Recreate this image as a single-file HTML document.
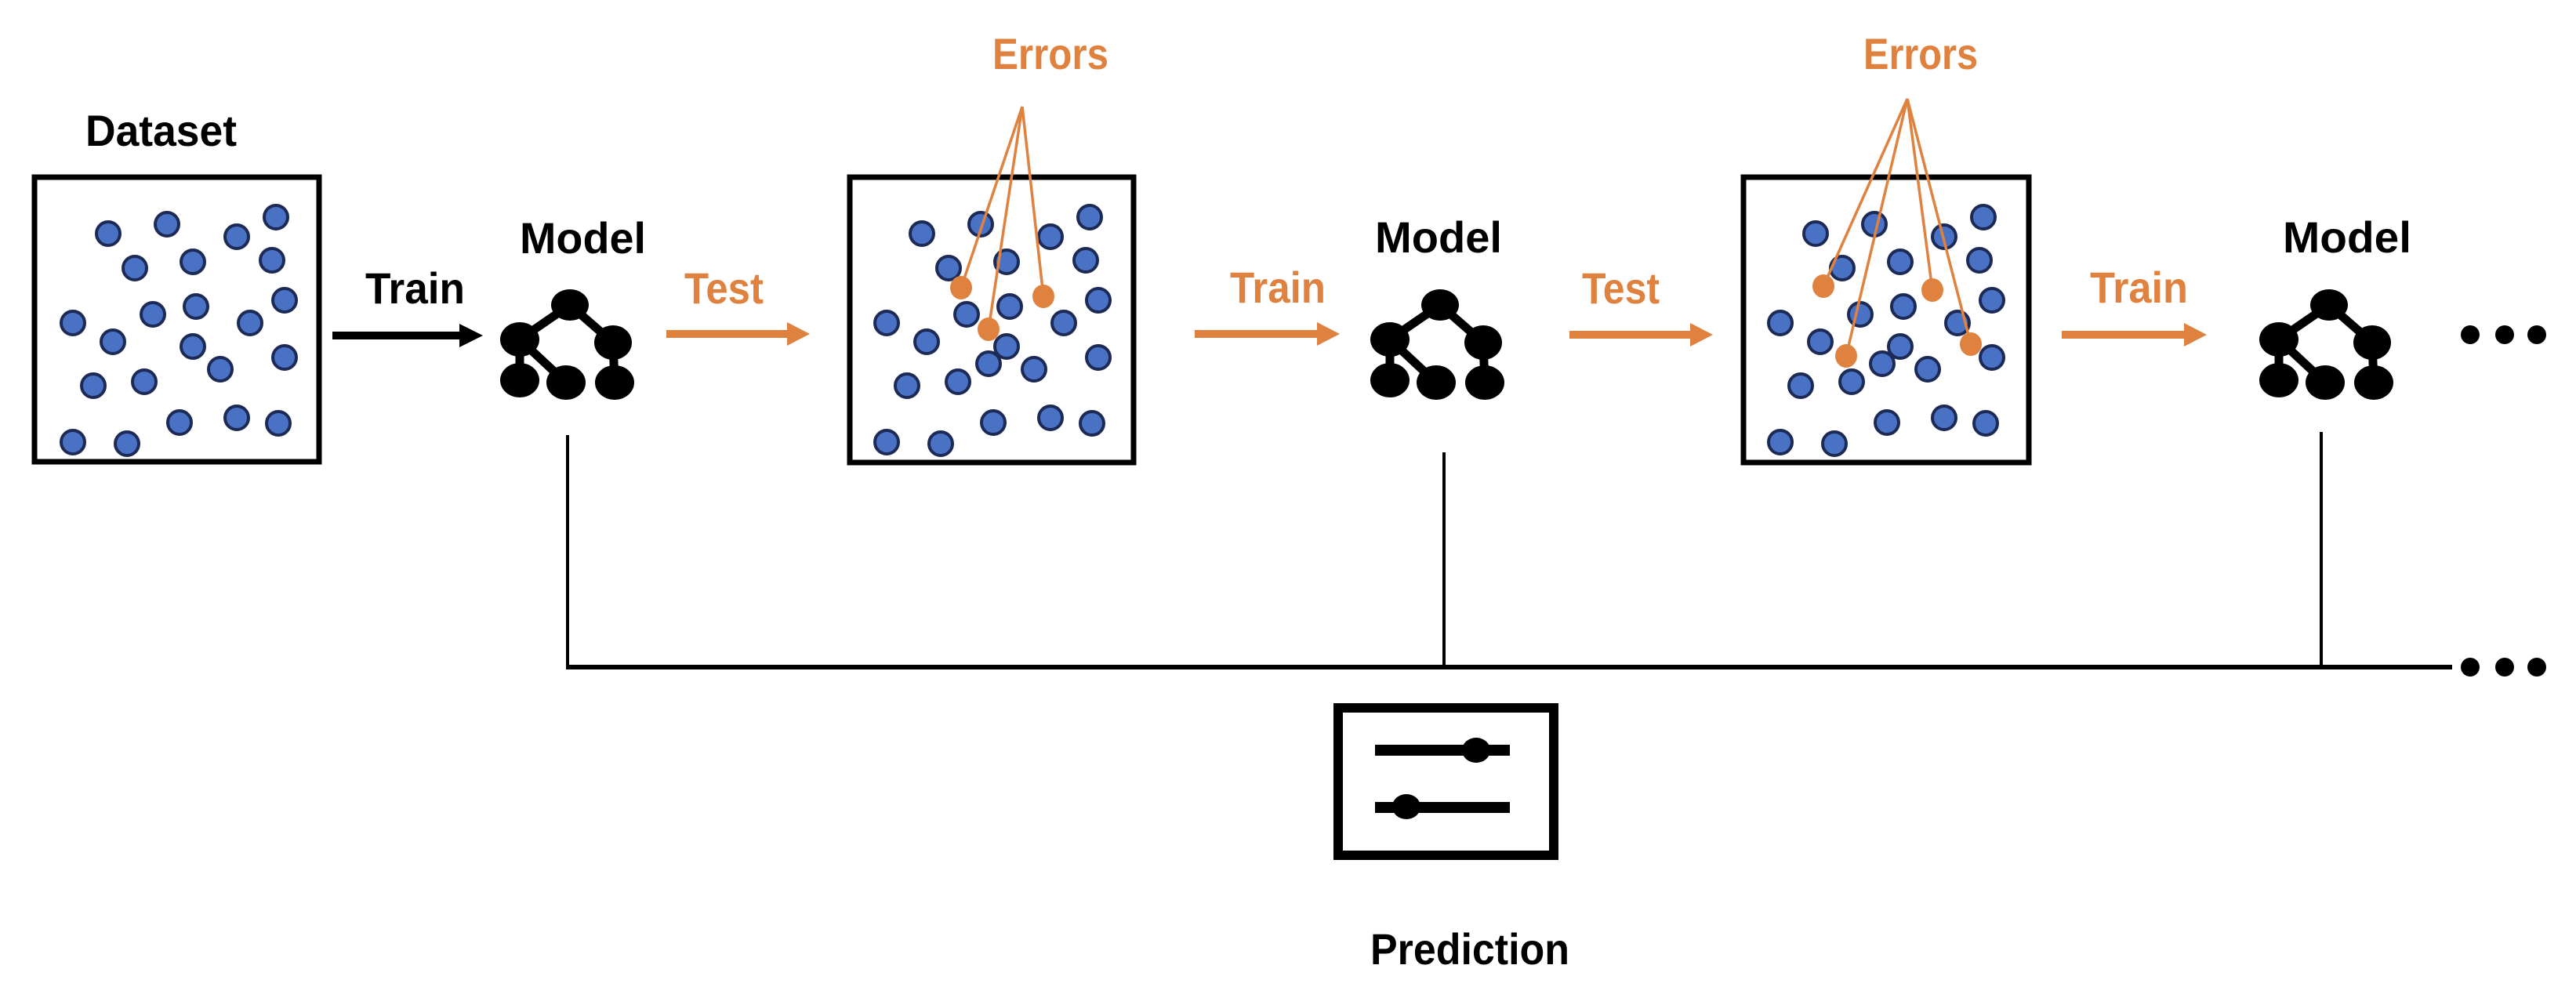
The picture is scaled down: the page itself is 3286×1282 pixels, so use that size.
<!DOCTYPE html>
<html><head><meta charset="utf-8"><style>
html,body{margin:0;padding:0;background:#fff;}
svg{display:block;}
text{font-family:"Liberation Sans Narrow","Liberation Sans",sans-serif;font-weight:bold;font-size:56px;}
.o{fill:#E0823F;}
.k{fill:#000;}
</style></head><body>
<svg width="3286" height="1282" viewBox="0 0 3286 1282" xmlns="http://www.w3.org/2000/svg">
<defs>
<g id="dots">
<ellipse cx="138" cy="298" rx="15" ry="15"/><ellipse cx="213" cy="286" rx="15" ry="15"/><ellipse cx="302" cy="302" rx="15" ry="15"/><ellipse cx="352" cy="277" rx="15" ry="15"/>
<ellipse cx="172" cy="342" rx="15" ry="15"/><ellipse cx="246" cy="334" rx="15" ry="15"/><ellipse cx="347" cy="332" rx="15" ry="15"/><ellipse cx="363" cy="383" rx="15" ry="15"/>
<ellipse cx="195" cy="401" rx="15" ry="15"/><ellipse cx="250" cy="391" rx="15" ry="15"/><ellipse cx="319" cy="412" rx="15" ry="15"/><ellipse cx="93" cy="412" rx="15" ry="15"/>
<ellipse cx="144" cy="436" rx="15" ry="15"/><ellipse cx="246" cy="442" rx="15" ry="15"/><ellipse cx="363" cy="456" rx="15" ry="15"/><ellipse cx="281" cy="471" rx="15" ry="15"/>
<ellipse cx="119" cy="492" rx="15" ry="15"/><ellipse cx="184" cy="487" rx="15" ry="15"/><ellipse cx="229" cy="539" rx="15" ry="15"/><ellipse cx="302" cy="533" rx="15" ry="15"/>
<ellipse cx="355" cy="540" rx="15" ry="15"/><ellipse cx="93" cy="564" rx="15" ry="15"/><ellipse cx="162" cy="566" rx="15" ry="15"/>
</g>
<g id="tree">
<g stroke="#000" stroke-width="11" fill="none">
<line x1="727" y1="389" x2="663" y2="433"/><line x1="727" y1="389" x2="782" y2="437"/>
<line x1="663" y1="433" x2="663" y2="485"/><line x1="663" y1="433" x2="722" y2="488"/><line x1="782" y1="437" x2="784" y2="488"/>
</g>
<ellipse cx="727" cy="389" rx="24" ry="20"/><ellipse cx="663" cy="433" rx="25" ry="22"/><ellipse cx="782" cy="437" rx="24" ry="22"/>
<ellipse cx="663" cy="485" rx="25" ry="22"/><ellipse cx="722" cy="488" rx="25" ry="22"/><ellipse cx="784" cy="488" rx="25" ry="22"/>
</g>
</defs>

<!-- boxes -->
<g fill="none" stroke="#000" stroke-width="7">
<rect x="44" y="226" width="363" height="363"/>
<rect x="1084" y="226" width="362" height="364"/>
<rect x="2224" y="226" width="364" height="364"/>
</g>
<g fill="#4A72C4" stroke="#1C2A55" stroke-width="4">
<use href="#dots"/>
<use href="#dots" transform="translate(1038,0)"/>
<ellipse cx="1261" cy="464" rx="15" ry="15"/>
<use href="#dots" transform="translate(2178,0)"/>
<ellipse cx="2401" cy="464" rx="15" ry="15"/>
</g>

<!-- errors -->
<g stroke="#E0823F" stroke-width="3.5" fill="none">
<line x1="1304" y1="136" x2="1226" y2="367"/><line x1="1304" y1="136" x2="1331" y2="378"/><line x1="1304" y1="136" x2="1261" y2="420"/>
<line x1="2433" y1="126" x2="2326" y2="365"/><line x1="2433" y1="126" x2="2465" y2="370"/><line x1="2433" y1="126" x2="2355" y2="454"/><line x1="2433" y1="126" x2="2514" y2="439"/>
</g>
<g fill="#E0823F">
<ellipse cx="1226" cy="367" rx="14" ry="15"/><ellipse cx="1331" cy="378" rx="14" ry="15"/><ellipse cx="1261" cy="420" rx="14" ry="15"/>
<ellipse cx="2326" cy="365" rx="14" ry="15"/><ellipse cx="2465" cy="370" rx="14" ry="15"/><ellipse cx="2355" cy="454" rx="14" ry="15"/><ellipse cx="2514" cy="439" rx="14" ry="15"/>
</g>

<!-- trees -->
<g fill="#000">
<use href="#tree"/>
<use href="#tree" transform="translate(1110,0)"/>
<use href="#tree" transform="translate(2244,0)"/>
</g>

<!-- arrows -->
<g>
<rect x="424" y="423" width="164" height="10" fill="#000"/><polygon points="586,413 616,428 586,443" fill="#000"/>
<rect x="850" y="421" width="155" height="10" fill="#E0823F"/><polygon points="1004,411 1033,426 1004,441" fill="#E0823F"/>
<rect x="1524" y="421" width="157" height="10" fill="#E0823F"/><polygon points="1680,411 1709,426 1680,441" fill="#E0823F"/>
<rect x="2002" y="422" width="155" height="10" fill="#E0823F"/><polygon points="2156,412 2185,427 2156,442" fill="#E0823F"/>
<rect x="2630" y="422" width="157" height="10" fill="#E0823F"/><polygon points="2786,412 2815,427 2786,442" fill="#E0823F"/>
</g>

<!-- labels -->
<text class="k" x="109" y="186" textLength="193" lengthAdjust="spacingAndGlyphs">Dataset</text>
<text class="k" x="663" y="323" textLength="161" lengthAdjust="spacingAndGlyphs">Model</text>
<text class="k" x="1754" y="322" textLength="162" lengthAdjust="spacingAndGlyphs">Model</text>
<text class="k" x="2912" y="322" textLength="164" lengthAdjust="spacingAndGlyphs">Model</text>
<text class="k" x="466" y="387" textLength="127" lengthAdjust="spacingAndGlyphs">Train</text>
<text class="o" x="873" y="387" textLength="101" lengthAdjust="spacingAndGlyphs">Test</text>
<text class="o" x="1569" y="386" textLength="122" lengthAdjust="spacingAndGlyphs">Train</text>
<text class="o" x="2018" y="387" textLength="99" lengthAdjust="spacingAndGlyphs">Test</text>
<text class="o" x="2666" y="386" textLength="125" lengthAdjust="spacingAndGlyphs">Train</text>
<text class="o" x="1266" y="88" textLength="148" lengthAdjust="spacingAndGlyphs">Errors</text>
<text class="o" x="2377" y="88" textLength="146" lengthAdjust="spacingAndGlyphs">Errors</text>
<text class="k" x="1748" y="1230" textLength="254" lengthAdjust="spacingAndGlyphs">Prediction</text>

<!-- ellipsis top -->
<circle cx="3151" cy="427" r="12"/><circle cx="3195" cy="427" r="12"/><circle cx="3236" cy="427" r="12"/>

<!-- bottom connector -->
<g stroke="#000" fill="none">
<line x1="724" y1="555" x2="724" y2="851" stroke-width="4"/>
<line x1="1842" y1="577" x2="1842" y2="851" stroke-width="4"/>
<line x1="2961" y1="551" x2="2961" y2="851" stroke-width="4"/>
<line x1="722" y1="851" x2="3128" y2="851" stroke-width="6"/>
</g>
<circle cx="3151" cy="851" r="12"/><circle cx="3195" cy="851" r="12"/><circle cx="3236" cy="851" r="12"/>

<!-- prediction icon -->
<rect x="1707" y="903" width="275" height="188" fill="none" stroke="#000" stroke-width="12"/>
<rect x="1754" y="950" width="172" height="14" fill="#000"/>
<ellipse cx="1883" cy="957" rx="18" ry="16" fill="#000"/>
<rect x="1754" y="1023" width="172" height="14" fill="#000"/>
<ellipse cx="1794" cy="1029" rx="18" ry="16" fill="#000"/>
</svg>
</body></html>
